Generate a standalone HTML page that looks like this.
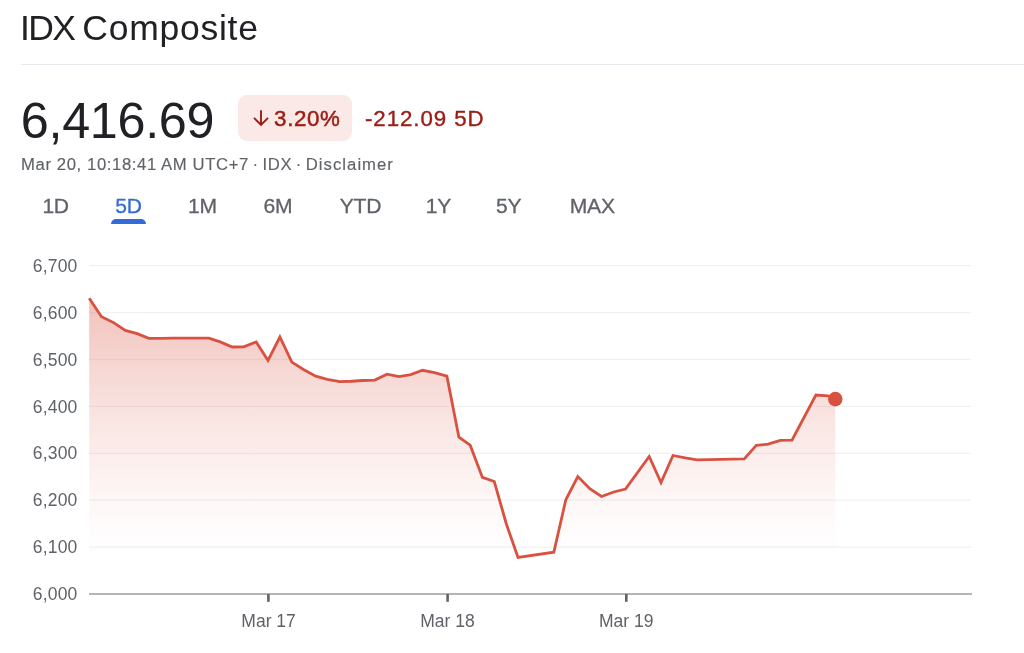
<!DOCTYPE html>
<html lang="en">
<head>
<meta charset="utf-8">
<title>IDX Composite</title>
<style>
  html, body { margin: 0; padding: 0; background: #fff; }
  body { width: 1024px; height: 653px; position: relative; overflow: hidden;
         font-family: "Liberation Sans", sans-serif; color: #202124; }
  #wrap { position: absolute; left: 0; top: 0; width: 1024px; height: 653px; will-change: transform; }
  .abs { position: absolute; white-space: nowrap; line-height: 1; }
  #title { left: 20px; top: 10.5px; font-size: 35.5px; color: #202124; }
  #rule { position: absolute; left: 20.5px; right: 0; top: 63.7px; height: 1.5px; background: #e8e9ee; }
  #price { left: 20.8px; top: 95.6px; font-size: 50.3px; color: #202124; letter-spacing: -0.3px; }
  #badge { position: absolute; left: 238px; top: 94.7px; width: 113.8px; height: 46.7px; border-radius: 9px; background: #fae9e6; }
  #pct { left: 274.1px; top: 107.6px; font-size: 22.3px; color: #9b1c14; letter-spacing: 0.65px; -webkit-text-stroke: 0.5px #9b1c14; }
  #chg { left: 365px; top: 107.6px; font-size: 22.3px; color: #9b1c14; letter-spacing: 0.92px; -webkit-text-stroke: 0.4px #9b1c14; }
  #sub { left: 21px; top: 157.1px; -webkit-text-stroke: 0.15px; font-size: 16.7px; color: #5f6368; letter-spacing: 0.6px; }
  .tab { font-size: 21.1px; letter-spacing: -0.3px; color: #5f6368; top: 195.1px; width: 80px; text-align: center; -webkit-text-stroke: 0.3px; }
  .tab.sel { color: #336bd8; }
  #ul { position: absolute; left: 111px; top: 219px; width: 35px; height: 5px; background: #336bd8; border-radius: 5px 5px 0 0; }
  svg { position: absolute; left: 0; top: 0; }
  svg text { font-family: "Liberation Sans", sans-serif; font-size: 17.5px; fill: #5f6368; }
</style>
</head>
<body>
<div id="wrap">
<div id="title" class="abs"><span style="letter-spacing:-1.6px">IDX</span> <span style="letter-spacing:0.75px;margin-left:-2px">Composite</span></div>
<div id="rule"></div>
<div id="price" class="abs">6,416.69</div>
<div id="badge"></div>
<div id="pct" class="abs">3.20%</div>
<div id="chg" class="abs">-212.09 5D</div>
<div id="sub" class="abs">Mar 20, 10:18:41 AM UTC+7<span style="word-spacing:-1.5px"> · IDX · </span><span style="letter-spacing:1.03px">Disclaimer</span></div>

<div class="abs tab" style="left:15.60px">1D</div>
<div class="abs tab sel" style="left:88.45px">5D</div>
<div class="abs tab" style="left:162.45px">1M</div>
<div class="abs tab" style="left:237.85px">6M</div>
<div class="abs tab" style="left:320.45px">YTD</div>
<div class="abs tab" style="left:398.45px">1Y</div>
<div class="abs tab" style="left:468.70px">5Y</div>
<div class="abs tab" style="left:552.25px">MAX</div>
<div id="ul"></div>

<svg width="1024" height="653" viewBox="0 0 1024 653">
  <defs>
    <linearGradient id="g" x1="0" y1="298" x2="0" y2="560" gradientUnits="userSpaceOnUse">
      <stop offset="0.0" stop-color="#d95140" stop-opacity="0.357"/>
      <stop offset="0.1" stop-color="#d95140" stop-opacity="0.308"/>
      <stop offset="0.2" stop-color="#d95140" stop-opacity="0.262"/>
      <stop offset="0.3" stop-color="#d95140" stop-opacity="0.217"/>
      <stop offset="0.4" stop-color="#d95140" stop-opacity="0.176"/>
      <stop offset="0.5" stop-color="#d95140" stop-opacity="0.136"/>
      <stop offset="0.6" stop-color="#d95140" stop-opacity="0.100"/>
      <stop offset="0.7" stop-color="#d95140" stop-opacity="0.067"/>
      <stop offset="0.8" stop-color="#d95140" stop-opacity="0.038"/>
      <stop offset="0.9" stop-color="#d95140" stop-opacity="0.015"/>
      <stop offset="1.0" stop-color="#d95140" stop-opacity="0.000"/>
    </linearGradient>
  </defs>
  <!-- arrow in badge -->
  <path d="M261 110.3 V124.6 M254 117.8 L261 124.8 L268 117.8" fill="none" stroke="#9b1c14" stroke-width="1.9"/>
  <!-- gridlines -->
  <g stroke="#f0f1f3" stroke-width="1.25">
    <line x1="89" x2="971" y1="265.60" y2="265.60"/>
    <line x1="89" x2="971" y1="312.52" y2="312.52"/>
    <line x1="89" x2="971" y1="359.44" y2="359.44"/>
    <line x1="89" x2="971" y1="406.36" y2="406.36"/>
    <line x1="89" x2="971" y1="453.28" y2="453.28"/>
    <line x1="89" x2="971" y1="500.20" y2="500.20"/>
    <line x1="89" x2="971" y1="547.12" y2="547.12"/>
  </g>
  <!-- area -->
  <path id="area" fill="url(#g)" d="M89.2 298.3 L101.5 316.7 L113.6 322.6 L125.3 330.4 L137.2 333.7 L148.75 338.4 L161 338.4 L173 338.2 L185 338.2 L197 338.2 L208.9 338.2 L220.2 341.9 L232.3 347 L243.7 346.8 L256.2 341.9 L268 360.5 L279.9 337 L291.8 362.1 L303.9 369.7 L315.7 376.2 L327.4 379.3 L339.7 381.6 L351.4 381.25 L363.1 380.5 L374.8 380.1 L387 374.2 L399 376.6 L410.8 374.6 L422.5 370.3 L434.4 372.7 L446.9 376.2 L458.9 437.2 L470.2 445.2 L482.4 477.4 L494.3 481.5 L506.2 523.5 L518 557.5 L553.85 552.2 L565.8 499.8 L577.8 476.5 L589.8 488.7 L601.5 496.5 L613.7 492 L625.5 489 L649.2 456.5 L661 482.5 L673 455.5 L685.2 457.9 L697 459.9 L708.8 459.7 L720.3 459.4 L732.5 459.2 L744.3 458.9 L756.3 445.4 L768.1 444.2 L780.3 440.3 L792 440.2 L815.9 395 L827.9 395.8 L835.2 399.1 L835.2 594 L89.2 594 Z"/>
  <!-- axis -->
  <line x1="89" x2="972" y1="594" y2="594" stroke="#9a9ca2" stroke-width="1.3"/>
  <g stroke="#5f6368" stroke-width="2.6">
    <line x1="268.4" x2="268.4" y1="594" y2="601.8"/>
    <line x1="447.6" x2="447.6" y1="594" y2="601.8"/>
    <line x1="626.3" x2="626.3" y1="594" y2="601.8"/>
  </g>
  <!-- line -->
  <path fill="none" stroke="#d95140" stroke-width="2.8" stroke-linejoin="miter" stroke-linecap="butt" d="M89.2 298.3 L101.5 316.7 L113.6 322.6 L125.3 330.4 L137.2 333.7 L148.75 338.4 L161 338.4 L173 338.2 L185 338.2 L197 338.2 L208.9 338.2 L220.2 341.9 L232.3 347 L243.7 346.8 L256.2 341.9 L268 360.5 L279.9 337 L291.8 362.1 L303.9 369.7 L315.7 376.2 L327.4 379.3 L339.7 381.6 L351.4 381.25 L363.1 380.5 L374.8 380.1 L387 374.2 L399 376.6 L410.8 374.6 L422.5 370.3 L434.4 372.7 L446.9 376.2 L458.9 437.2 L470.2 445.2 L482.4 477.4 L494.3 481.5 L506.2 523.5 L518 557.5 L553.85 552.2 L565.8 499.8 L577.8 476.5 L589.8 488.7 L601.5 496.5 L613.7 492 L625.5 489 L649.2 456.5 L661 482.5 L673 455.5 L685.2 457.9 L697 459.9 L708.8 459.7 L720.3 459.4 L732.5 459.2 L744.3 458.9 L756.3 445.4 L768.1 444.2 L780.3 440.3 L792 440.2 L815.9 395 L827.9 395.8 L835.2 399.1"/>
  <circle cx="835.3" cy="399.1" r="7.3" fill="#d95140"/>
  <!-- y labels -->
  <g text-anchor="end" letter-spacing="0.2">
    <text x="77.5" y="271.7">6,700</text>
    <text x="77.5" y="318.6">6,600</text>
    <text x="77.5" y="365.5">6,500</text>
    <text x="77.5" y="412.5">6,400</text>
    <text x="77.5" y="459.4">6,300</text>
    <text x="77.5" y="506.3">6,200</text>
    <text x="77.5" y="553.2">6,100</text>
    <text x="77.5" y="600.1">6,000</text>
  </g>
  <g text-anchor="middle">
    <text x="268.6" y="626.7">Mar 17</text>
    <text x="447.4" y="626.7">Mar 18</text>
    <text x="626.2" y="626.7">Mar 19</text>
  </g>
</svg>
</div>
</body>
</html>
